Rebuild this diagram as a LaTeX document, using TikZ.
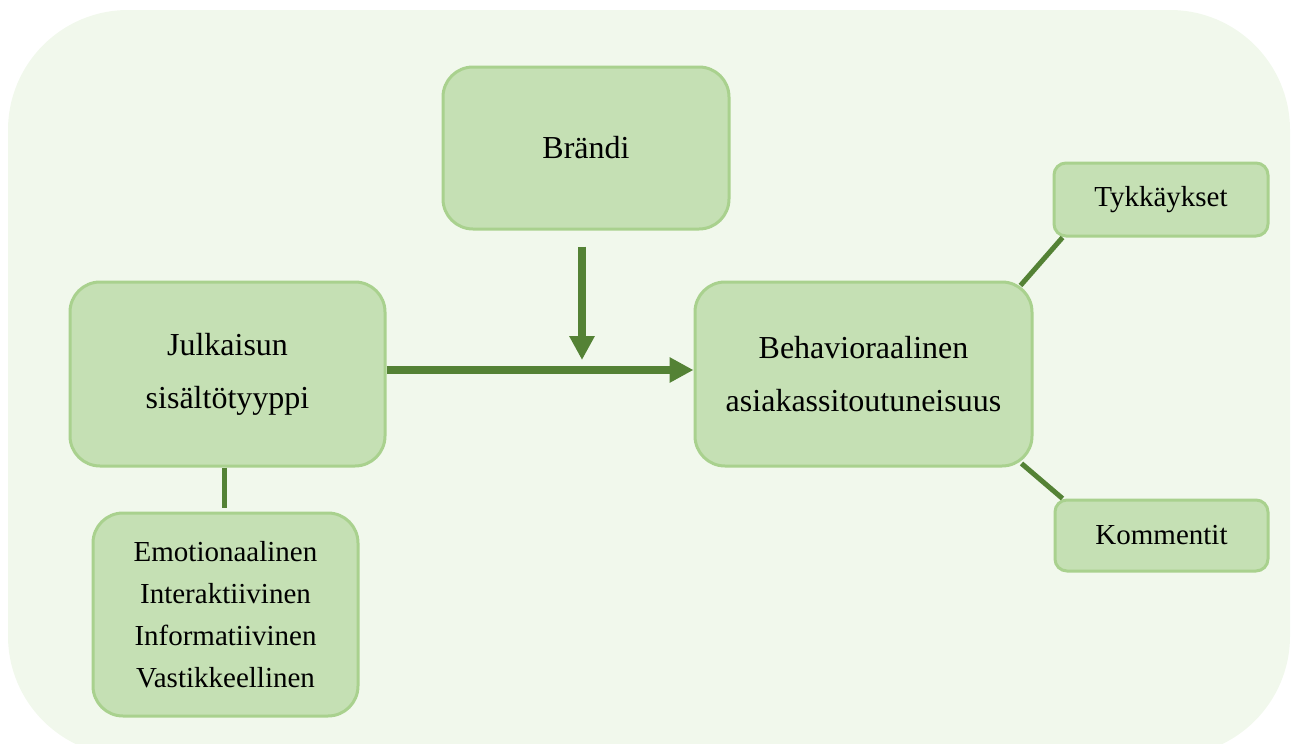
\documentclass[tikz,border=0pt]{standalone}
\usepackage{fontspec}
\setmainfont{Liberation Serif}
\usetikzlibrary{arrows.meta}
\definecolor{bgc}{HTML}{F1F8EC}
\definecolor{boxfill}{HTML}{C5E0B4}
\definecolor{boxline}{HTML}{A9D18E}
\definecolor{arrc}{HTML}{548235}
\tikzset{
  bigbox/.style={draw=boxline, fill=boxfill, line width=3pt, rounded corners=30pt,
    inner sep=0pt, align=center, font=\fontsize{32}{53}\selectfont},
  smallbox/.style={draw=boxline, fill=boxfill, line width=3pt, rounded corners=12pt,
    inner sep=0pt, align=center, font=\fontsize{29}{42}\selectfont},
  listbox/.style={draw=boxline, fill=boxfill, line width=3pt, rounded corners=30pt,
    inner sep=0pt, align=center, font=\fontsize{29}{42}\selectfont},
  arr/.style={draw=arrc, line width=8pt, -{Triangle[width=24pt,length=24pt]}},
  link/.style={draw=arrc, line width=5pt}
}
\begin{document}
\begin{tikzpicture}[x=1pt,y=-1pt]
\useasboundingbox (0,0) rectangle (1294,744);
\fill[bgc, rounded corners=120pt] (8,10) rectangle (1290,756);

\node[bigbox, minimum width=286pt, minimum height=162pt] (brandi) at (586,148) {Brändi};
\node[bigbox, minimum width=315pt, minimum height=184pt] (julk) at (227.5,374) {Julkaisun\\sisältötyyppi};
\node[bigbox, minimum width=337pt, minimum height=184pt] (behav) at (863.5,374) {Behavioraalinen\\asiakassitoutuneisuus};
\node[smallbox, minimum width=214pt, minimum height=73pt] (tykk) at (1161,199.5) {Tykkäykset};
\node[smallbox, minimum width=213pt, minimum height=71pt] (komm) at (1161.5,535.5) {Kommentit};
\node[listbox, minimum width=265pt, minimum height=203pt] (emo) at (225.5,614.5) {Emotionaalinen\\Interaktiivinen\\Informatiivinen\\Vastikkeellinen};

\coordinate (vstart) at ([yshift=-16pt]brandi.south -| 582,0);
\coordinate (vend) at (582,360);
\draw[arr] (vstart) -- (vend);
\draw[arr] ([yshift=4pt]julk.east) -- ([yshift=4pt]behav.west);

\draw[link] ([shift={(-13,5)}]behav.north east) -- ([shift={(10,0)}]tykk.south west);
\draw[link] ([shift={(-12,-4)}]behav.south east) -- ([shift={(9,0)}]komm.north west);
\draw[link, shorten >=4pt] ([xshift=-3.5pt]julk.south) -- ([xshift=-3.5pt]julk.south |- emo.north);
\end{tikzpicture}
\end{document}
